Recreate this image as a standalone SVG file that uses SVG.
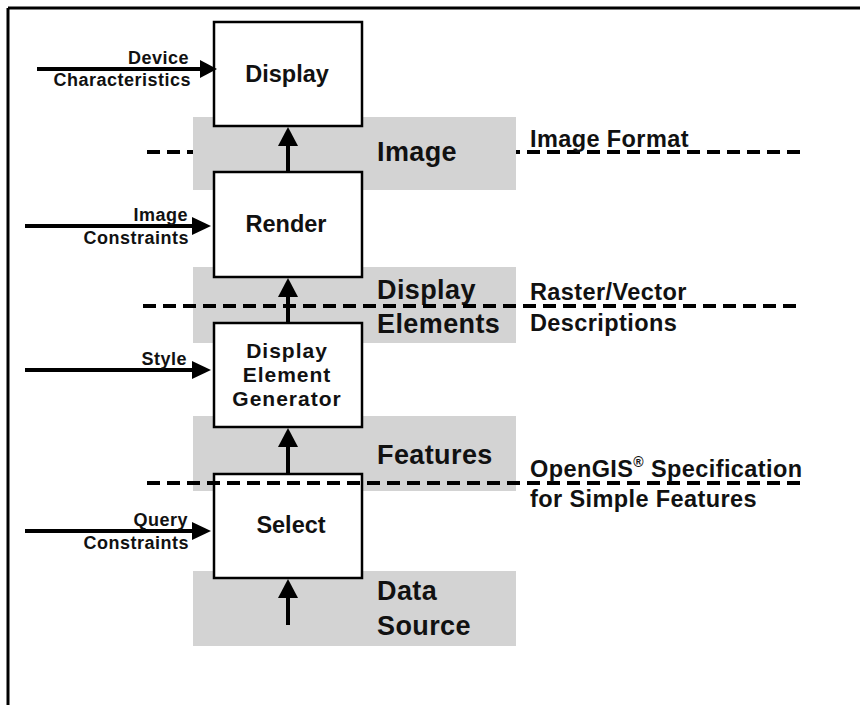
<svg xmlns="http://www.w3.org/2000/svg" width="860" height="705" viewBox="0 0 860 705">
<defs>
<style>
.band{fill:#d3d3d3}
.box{fill:#fff;stroke:#000;stroke-width:2.5}
.bl{font-family:"Liberation Sans",Arial,sans-serif;font-weight:bold;font-size:23.5px;text-anchor:middle;fill:#111}
.bls{font-family:"Liberation Sans",Arial,sans-serif;font-weight:bold;font-size:21px;letter-spacing:1px;text-anchor:middle;fill:#111}
.big{font-family:"Liberation Sans",Arial,sans-serif;font-weight:bold;font-size:27px;letter-spacing:0.4px;fill:#111}
.sm{font-family:"Liberation Sans",Arial,sans-serif;font-weight:bold;font-size:18px;letter-spacing:0.5px;text-anchor:end;fill:#111}
.rt{font-family:"Liberation Sans",Arial,sans-serif;font-weight:bold;font-size:23.5px;letter-spacing:0.4px;fill:#111}
.dash{stroke:#000;stroke-width:4;stroke-dasharray:13 7;fill:none}
.arr{stroke:#000;stroke-width:4;fill:none}
.head{fill:#000}
</style>
</defs>
<rect width="860" height="705" fill="#fff"/>
<g id="frame">
<line x1="8" y1="8" x2="860" y2="8" stroke="#000" stroke-width="3"/>
<line x1="8" y1="8" x2="8" y2="705" stroke="#000" stroke-width="3"/>
</g>
<g id="image-boundary-under">
<line class="dash" x1="147" y1="152" x2="800" y2="152"/>
</g>
<g id="band-image"><rect class="band" x="193" y="117" width="323" height="73"/><text class="big" x="377" y="161">Image</text></g>
<g id="band-display-elements"><rect class="band" x="193" y="267" width="323" height="76"/><text class="big" x="377" y="299">Display</text><text class="big" x="377" y="333">Elements</text></g>
<g id="band-features"><rect class="band" x="193" y="416" width="323" height="75"/><text class="big" x="377" y="464">Features</text></g>
<g id="band-data-source"><rect class="band" x="193" y="571" width="323" height="75"/><text class="big" x="377" y="600">Data</text><text class="big" x="377" y="635">Source</text></g>
<g id="node-display"><rect class="box" x="214" y="22" width="148" height="104"/><text class="bl" x="287" y="82">Display</text></g>
<g id="node-render"><rect class="box" x="214" y="172" width="148" height="105"/><text class="bl" x="286" y="232">Render</text></g>
<g id="node-deg"><rect class="box" x="214" y="323" width="148" height="104"/><text class="bls" x="287" y="358">Display</text><text class="bls" x="287" y="382">Element</text><text class="bls" x="287" y="406">Generator</text></g>
<g id="node-select"><rect class="box" x="214" y="474" width="148" height="104"/><text class="bl" x="291" y="533">Select</text></g>
<g id="connectors">
<line class="arr" x1="288" y1="172" x2="288" y2="140"/><polygon class="head" points="288,127 278,146 298,146"/>
<line class="arr" x1="288" y1="323" x2="288" y2="290"/><polygon class="head" points="288,278 278,297 298,297"/>
<line class="arr" x1="288" y1="474" x2="288" y2="440"/><polygon class="head" points="288,428 278,447 298,447"/>
<line class="arr" x1="288" y1="625" x2="288" y2="592"/><polygon class="head" points="288,579 278,598 298,598"/>
<line class="arr" x1="37" y1="69" x2="205" y2="69"/><polygon class="head" points="217,69 200,60 200,78"/>
<line class="arr" x1="25" y1="226" x2="197" y2="226"/><polygon class="head" points="211,226 192,217 192,235"/>
<line class="arr" x1="25" y1="370" x2="197" y2="370"/><polygon class="head" points="211,370 192,361 192,379"/>
<line class="arr" x1="25" y1="531" x2="197" y2="531"/><polygon class="head" points="211,531 192,522 192,540"/>
</g>
<g id="input-labels">
<text class="sm" x="189" y="64">Device</text><text class="sm" x="191" y="86">Characteristics</text>
<text class="sm" x="188" y="221">Image</text><text class="sm" x="189" y="244">Constraints</text>
<text class="sm" x="187" y="365">Style</text>
<text class="sm" x="188" y="526">Query</text><text class="sm" x="189" y="549">Constraints</text>
</g>
<g id="boundaries">
<line class="dash" x1="143" y1="306" x2="800" y2="306"/>
<line class="dash" x1="147" y1="483" x2="800" y2="483"/>
</g>
<g id="boundary-labels">
<text class="rt" x="530" y="147">Image Format</text>
<text class="rt" x="530" y="300">Raster/Vector</text>
<text class="rt" x="530" y="331">Descriptions</text>
<text class="rt" x="530" y="477">OpenGIS<tspan font-size="14" dy="-10">®</tspan><tspan dy="10"> Specification</tspan></text>
<text class="rt" x="530" y="507">for Simple Features</text>
</g>
</svg>
